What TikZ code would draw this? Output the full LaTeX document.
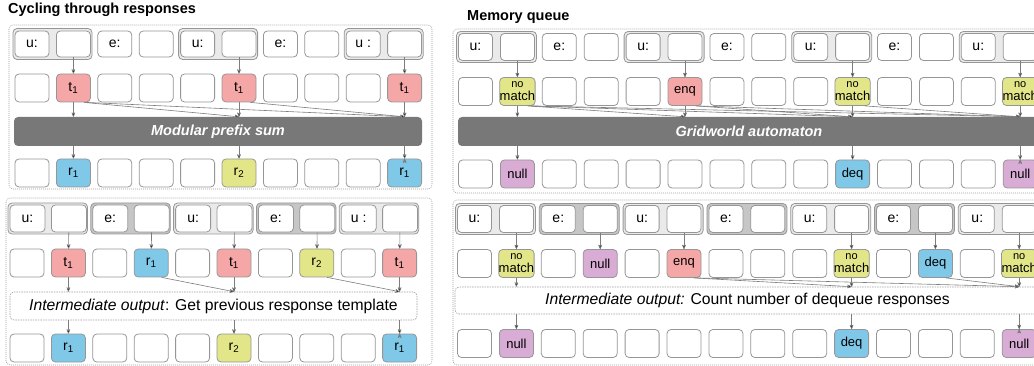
\documentclass[tikz,border=0pt]{standalone}
\usepackage{fontspec}
\setmainfont{Liberation Sans}
\usetikzlibrary{arrows}
\definecolor{cellline}{RGB}{150,150,150}
\definecolor{linegray}{RGB}{125,125,125}
\definecolor{panelgray}{RGB}{160,160,160}
\definecolor{bargray}{RGB}{120,120,120}
\definecolor{ugray}{RGB}{234,234,234}
\definecolor{egray}{RGB}{198,198,198}
\definecolor{tred}{RGB}{245,166,166}
\definecolor{tblue}{RGB}{128,200,232}
\definecolor{tyellow}{RGB}{226,230,136}
\definecolor{tpurple}{RGB}{216,172,212}
\newcommand{\tOne}{t\textsubscript{1}}
\newcommand{\rOne}{r\textsubscript{1}}
\newcommand{\rTwo}{r\textsubscript{2}}
\newcommand{\noMatch}{\fontsize{11}{11.5}\selectfont no\\match}

\begin{document}
\begin{tikzpicture}[x=1pt,y=-1pt,>=stealth',
                cell/.style={draw=cellline,fill=white,rounded corners=4pt,line width=0.8pt,
                    minimum width=34pt,minimum height=28pt,inner sep=0pt,align=center,
                    font=\fontsize{14}{14}\selectfont},
                qcell/.style={cell,font=\fontsize{13}{13}\selectfont},
                ugrp/.style={draw=cellline,fill=ugray,rounded corners=4pt,line width=0.8pt},
                egrp/.style={draw=cellline,fill=egray,rounded corners=4pt,line width=0.8pt},
                bar/.style={fill=bargray,rounded corners=4pt,minimum height=29pt,text=white,
                    font=\fontsize{14.5}{14.5}\selectfont\bfseries\itshape},
                midbox/.style={draw=panelgray,dash pattern=on 1.5pt off 1pt,line width=0.6pt,
                    rounded corners=4pt,minimum height=28pt,font=\fontsize{15.7}{15.7}\selectfont},
                panel/.style={draw=panelgray,dash pattern=on 1pt off 1pt,line width=0.6pt,rounded corners=4pt},
                title/.style={anchor=base west,inner sep=0pt,font=\fontsize{14.5}{14.5}\selectfont\bfseries},
                arr/.style={->,draw=linegray,line width=0.6pt}]
                \clip[use as bounding box] (0,0) rectangle (1034,366);

                \node[title] (ttlA) at (8,14) {Cycling through responses};
                \node[title] (ttlC) at (467,20.5) {Memory queue};

                \draw[panel] (9,25) rectangle (432,189);
                \draw[panel] (6,198) rectangle (432,365);
                \draw[panel] (453,29) rectangle (1045,193);
                \draw[panel] (453,200) rectangle (1045,365);

                \foreach \i in {0,4,8}
                    \draw[ugrp] ({\i*41.4+13},28.5) rectangle ({\i*41.4+92},59.5);
                \foreach \t [count=\i from 0] in {u:,{},e:,{},u:,{},e:,{},u :,{}}
                    \node[cell,minimum height=26pt] (ain-\i) at ({\i*41.4+32},44) {\t};
                \foreach \c/\t [count=\i from 0] in {white/{},tred/\tOne,white/{},white/{},white/{},tred/\tOne,white/{},white/{},white/{},tred/\tOne}
                    \node[cell,fill=\c] (ahid-\i) at ({\i*41.4+32},88) {\t};
                \node[bar,minimum width=408pt] (abar) at (218,131.5) {Modular prefix sum};
                \foreach \c/\t [count=\i from 0] in {white/{},tblue/\rOne,white/{},white/{},white/{},tyellow/\rTwo,white/{},white/{},white/{},tblue/\rOne}
                    \node[cell,fill=\c] (aout-\i) at ({\i*41.4+32},173) {\t};

                \foreach \i in {0,4,8}
                    \draw[ugrp] ({\i*41.4+8},203) rectangle ({\i*41.4+87.5},234);
                \foreach \i in {2,6}
                    \draw[egrp] ({\i*41.4+8},203) rectangle ({\i*41.4+87.5},234);
                \foreach \t [count=\i from 0] in {u:,{},e:,{},u:,{},e:,{},u :,{}}
                    \node[cell,minimum width=35pt,minimum height=27pt] (bin-\i) at ({\i*41.4+27.5},218.5) {\t};
                \foreach \c/\t [count=\i from 0] in {white/{},tred/\tOne,white/{},tblue/\rOne,white/{},tred/\tOne,white/{},tyellow/\rTwo,white/{},tred/\tOne}
                    \node[cell,fill=\c] (bhid-\i) at ({\i*41.4+27},263) {\t};
                \node[midbox,minimum width=407pt] (bmid) at (213.5,306) {\textit{Intermediate output}: Get previous response template};
                \foreach \c/\t [count=\i from 0] in {white/{},tblue/\rOne,white/{},white/{},white/{},tyellow/\rTwo,white/{},white/{},white/{},tblue/\rOne}
                    \node[cell,fill=\c] (bout-\i) at ({\i*41.4+27},348) {\t};

                \foreach \i in {0,4,8,12}
                    \draw[ugrp] ({\i*41.9+456.5},31.5) rectangle ({\i*41.9+536.5},62.5);
                \foreach \t [count=\i from 0] in {u:,{},e:,{},u:,{},e:,{},u:,{},e:,{},u:,{}}
                    \node[cell,minimum height=27pt] (cin-\i) at ({\i*41.9+475.5},47) {\t};
                \foreach \c/\t [count=\i from 0] in {white/{},tyellow/\noMatch,white/{},white/{},white/{},tred/enq,white/{},white/{},white/{},tyellow/\noMatch,white/{},white/{},white/{},tyellow/\noMatch}
                    \node[qcell,fill=\c] (chid-\i) at ({\i*41.9+475.5},91.5) {\t};
                \node[bar,minimum width=582pt] (cbar) at (749,131.5) {Gridworld automaton};
                \foreach \c/\t [count=\i from 0] in {white/{},tpurple/null,white/{},white/{},white/{},white/{},white/{},white/{},white/{},tblue/deq,white/{},white/{},white/{},tpurple/null}
                    \node[qcell,fill=\c] (cout-\i) at ({\i*41.9+475.5},174) {\t};

                \foreach \i in {0,4,8,12}
                    \draw[ugrp] ({\i*41.9+455.5},203.5) rectangle ({\i*41.9+535.5},234.5);
                \foreach \i in {2,6,10}
                    \draw[egrp] ({\i*41.9+455.5},203.5) rectangle ({\i*41.9+535.5},234.5);
                \foreach \t [count=\i from 0] in {u:,{},e:,{},u:,{},e:,{},u:,{},e:,{},u:,{}}
                    \node[cell,minimum height=27pt] (din-\i) at ({\i*41.9+474.5},219) {\t};
                \foreach \c/\t [count=\i from 0] in {white/{},tyellow/\noMatch,white/{},tpurple/null,white/{},tred/enq,white/{},white/{},white/{},tyellow/\noMatch,white/{},tblue/deq,white/{},tyellow/\noMatch}
                    \node[qcell,fill=\c] (dhid-\i) at ({\i*41.9+474.5},263.5) {\t};
                \node[midbox,minimum width=585pt,minimum height=27pt] (dmid) at (747.5,300.5) {\textit{Intermediate output:} Count number of dequeue responses};
                \foreach \c/\t [count=\i from 0] in {white/{},tpurple/null,white/{},white/{},white/{},white/{},white/{},white/{},white/{},tblue/deq,white/{},white/{},white/{},tpurple/null}
                    \node[qcell,fill=\c] (dout-\i) at ({\i*41.9+474.5},343.5) {\t};

                \path[arr]
                    (ain-1) edge (ahid-1)
                    (ain-5) edge (ahid-5)
                    (ain-9) edge (ahid-9)
                    (ahid-1.south) edge (ahid-1.south |- abar.north)
                    (ahid-5.south) edge (ahid-5.south |- abar.north)
                    (ahid-9.south) edge (ahid-9.south |- abar.north)
                    ([xshift=-7pt]ahid-1.south east) edge (ahid-5.south |- abar.north)
                    ([xshift=-5pt]ahid-1.south east) edge (ahid-9.south |- abar.north)
                    ([xshift=-6pt]ahid-5.south east) edge (ahid-9.south |- abar.north)
                    (aout-1.north) edge[<-] (aout-1.north |- abar.south)
                    (aout-5.north) edge[<-] (aout-5.north |- abar.south)
                    (aout-9.north) edge[<-] (aout-9.north |- abar.south)
                ;
                \path[arr]
                    (bin-1) edge (bhid-1)
                    (bin-3) edge (bhid-3)
                    (bin-5) edge (bhid-5)
                    (bin-7) edge (bhid-7)
                    (bin-9) edge (bhid-9)
                    (bhid-1.south) edge (bhid-1.south |- bmid.north)
                    (bhid-5.south) edge (bhid-5.south |- bmid.north)
                    (bhid-9.south) edge (bhid-9.south |- bmid.north)
                    ([xshift=-7pt]bhid-3.south east) edge (bhid-5.south |- bmid.north)
                    ([xshift=-7pt]bhid-7.south east) edge (bhid-9.south |- bmid.north)
                    (bout-1.north) edge[<-] (bout-1.north |- bmid.south)
                    (bout-5.north) edge[<-] (bout-5.north |- bmid.south)
                    (bout-9.north) edge[<-] (bout-9.north |- bmid.south)
                ;
                \path[arr]
                    (cin-1) edge (chid-1)
                    (cin-5) edge (chid-5)
                    (cin-9) edge (chid-9)
                    (cin-13) edge (chid-13)
                    (chid-1.south) edge (chid-1.south |- cbar.north)
                    (chid-5.south) edge (chid-5.south |- cbar.north)
                    (chid-9.south) edge (chid-9.south |- cbar.north)
                    (chid-13.south) edge (chid-13.south |- cbar.north)
                    ([xshift=-8pt]chid-1.south east) edge (chid-5.south |- cbar.north)
                    ([xshift=-6pt]chid-1.south east) edge (chid-9.south |- cbar.north)
                    ([xshift=-4pt]chid-1.south east) edge (chid-13.south |- cbar.north)
                    ([xshift=-7pt]chid-5.south east) edge (chid-9.south |- cbar.north)
                    ([xshift=-5pt]chid-5.south east) edge (chid-13.south |- cbar.north)
                    ([xshift=-6pt]chid-9.south east) edge (chid-13.south |- cbar.north)
                    (cout-1.north) edge[<-] (cout-1.north |- cbar.south)
                    (cout-9.north) edge[<-] (cout-9.north |- cbar.south)
                    (cout-13.north) edge[<-] (cout-13.north |- cbar.south)
                ;
                \path[arr]
                    (din-1) edge (dhid-1)
                    (din-3) edge (dhid-3)
                    (din-5) edge (dhid-5)
                    (din-9) edge (dhid-9)
                    (din-11) edge (dhid-11)
                    (din-13) edge (dhid-13)
                    (dhid-1.south) edge (dhid-1.south |- dmid.north)
                    (dhid-9.south) edge (dhid-9.south |- dmid.north)
                    (dhid-13.south) edge (dhid-13.south |- dmid.north)
                    ([xshift=-8pt]dhid-5.south east) edge (dhid-9.south |- dmid.north)
                    ([xshift=-6pt]dhid-5.south east) edge (dhid-13.south |- dmid.north)
                    ([xshift=-7pt]dhid-11.south east) edge (dhid-13.south |- dmid.north)
                    (dout-1.north) edge[<-] (dout-1.north |- dmid.south)
                    (dout-9.north) edge[<-] (dout-9.north |- dmid.south)
                    (dout-13.north) edge[<-] (dout-13.north |- dmid.south)
                ;
\end{tikzpicture}
\end{document}
